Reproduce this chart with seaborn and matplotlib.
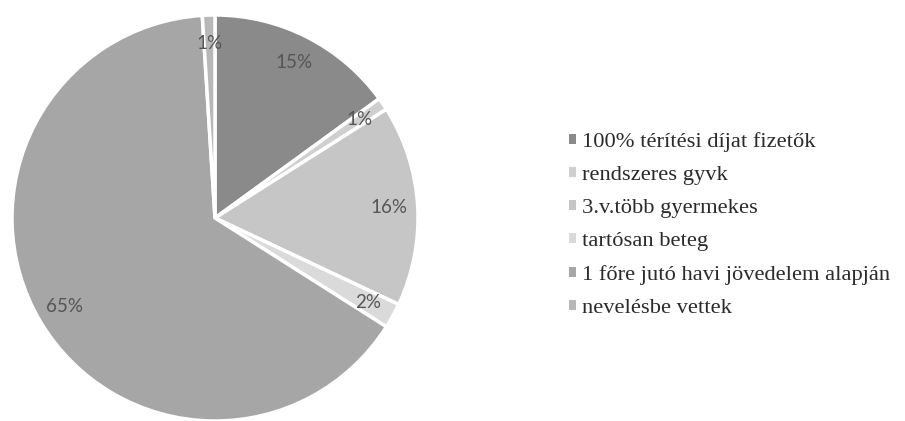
import matplotlib
matplotlib.use("Agg")
import matplotlib.pyplot as plt
import seaborn as sns

# slice data, clockwise from 12 o'clock
categories = [
    "100% térítési díjat fizetők",
    "rendszeres gyvk",
    "3.v.több gyermekes",
    "tartósan beteg",
    "1 főre jutó havi jövedelem alapján",
    "nevelésbe vettek",
]
shares = [15, 1, 16, 2, 65, 1]
colors = ["#8a8a8a", "#cfcfcf", "#c6c6c6", "#dadada", "#a6a6a6", "#b8b8b8"]

sns.set_theme(style="white")

fig = plt.figure(figsize=(9.05, 4.21), dpi=100)
ax = fig.add_axes([12 / 905, 0.0, 406 / 905, 406 / 421])

wedges, texts, autotexts = ax.pie(
    shares,
    colors=colors,
    startangle=90,
    counterclock=False,
    autopct="%d%%",
    pctdistance=0.86,
    wedgeprops=dict(edgecolor="white", linewidth=2.5),
    textprops=dict(color="#555555", fontsize=13.5, family="Lato"),
)
ax.set_aspect("equal")
ax.set_xlim(-1, 1)
ax.set_ylim(-1, 1)

leg = fig.legend(
    wedges,
    categories,
    loc="upper left",
    bbox_to_anchor=(549 / 905, 1 - 112 / 421),
    frameon=False,
    handlelength=0.28,
    handleheight=0.28,
    handletextpad=0.3,
    labelspacing=0.62,
    prop=dict(family="Liberation Serif", size=16.2),
)
for h in leg.legend_handles:
    h.set_linewidth(0)
for t in leg.get_texts():
    t.set_color("#2b2b2b")

plt.savefig("out.png", dpi=100)
